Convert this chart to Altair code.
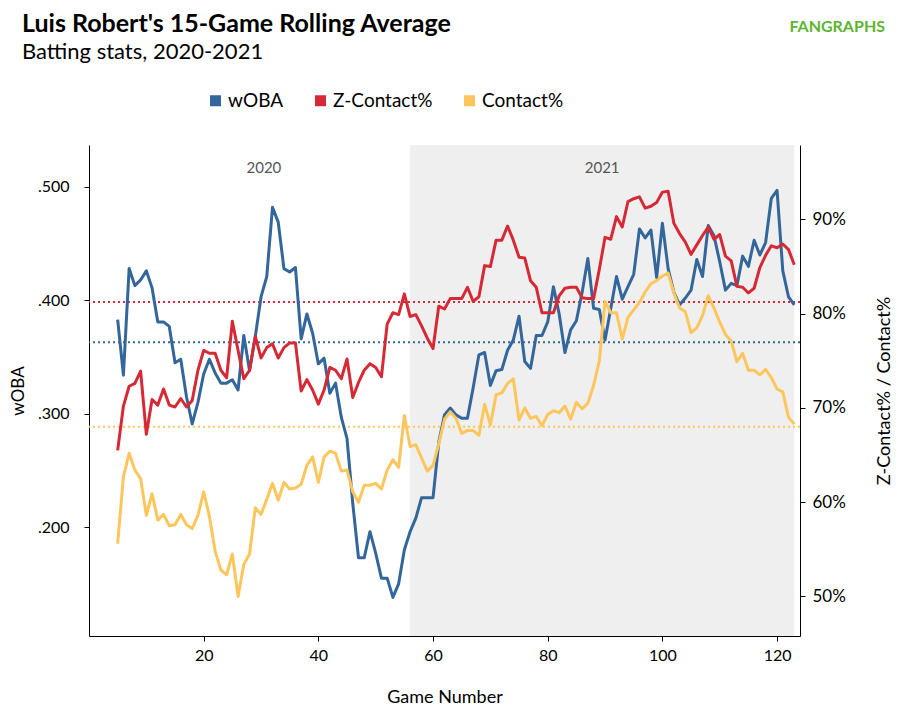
import altair as alt
import pandas as pd

# ---------------- data ----------------
games = list(range(5, 124))

woba = [
    .383, .334, .428, .413, .418, .426, .411, .381, .381, .377,
    .345, .348, .315, .291, .310, .335, .348, .336, .327, .327,
    .330, .321, .369, .338, .368, .403, .421, .482, .469, .428,
    .425, .429, .366, .388, .371, .344, .349, .318, .327, .297,
    .278, .221, .173, .173, .196, .177, .155, .155, .138, .150,
    .180, .196, .208, .226, .226, .226, .275, .299, .305, .299,
    .296, .296, .323, .352, .354, .325, .338, .339, .356, .365,
    .386, .346, .340, .369, .369, .381, .412, .388, .354, .374,
    .382, .407, .437, .393, .392, .365, .393, .421, .401, .412,
    .423, .463, .455, .462, .420, .468, .428, .407, .396, .402,
    .409, .436, .421, .466, .457, .434, .409, .415, .413, .439,
    .430, .453, .440, .451, .490, .497, .426, .403, .396,
]

z_contact = [
    65.5, 70.2, 72.3, 72.6, 73.9, 67.2, 70.9, 70.3, 72.0, 70.3,
    70.1, 71.0, 70.1, 70.8, 74.0, 76.1, 75.8, 75.8, 74.0, 73.2,
    79.2, 76.1, 73.1, 74.0, 77.6, 75.3, 76.4, 76.8, 75.3, 76.4,
    76.9, 76.9, 71.8, 73.0, 71.9, 70.4, 71.9, 74.3, 74.0, 73.1,
    75.2, 71.1, 72.7, 74.0, 74.7, 74.3, 73.3, 78.9, 80.1, 79.9,
    82.1, 79.7, 79.9, 78.7, 77.4, 76.3, 80.8, 80.5, 81.6, 81.6,
    81.6, 82.8, 81.3, 81.8, 85.1, 85.0, 87.8, 87.8, 89.3, 87.8,
    86.0, 85.9, 83.5, 82.8, 80.1, 80.1, 80.1, 81.9, 82.7, 82.8,
    82.8, 81.7, 81.6, 81.6, 84.7, 88.1, 87.9, 90.3, 89.2, 91.9,
    92.2, 92.4, 91.2, 91.4, 91.8, 92.9, 93.0, 89.6, 88.5, 87.6,
    86.3, 87.3, 88.3, 89.2, 87.9, 88.4, 86.1, 85.6, 82.9, 82.8,
    82.2, 82.7, 84.9, 86.2, 87.2, 87.0, 87.4, 86.8, 85.2,
]

contact = [
    55.6, 62.7, 65.2, 63.4, 62.5, 58.6, 60.9, 58.1, 58.7, 57.5,
    57.6, 58.7, 57.6, 57.2, 58.6, 61.1, 58.5, 54.8, 52.8, 52.3,
    54.5, 50.0, 53.4, 54.5, 59.4, 58.7, 60.3, 62.0, 60.2, 62.1,
    61.4, 61.5, 61.9, 63.9, 64.8, 62.1, 64.8, 65.4, 65.2, 63.3,
    63.4, 61.1, 60.0, 61.8, 61.8, 62.0, 61.4, 63.4, 64.5, 63.7,
    69.2, 65.9, 66.1, 64.7, 63.3, 63.9, 66.2, 68.8, 69.6, 68.9,
    67.3, 67.6, 67.6, 67.1, 70.4, 68.2, 71.4, 71.6, 72.6, 73.1,
    68.7, 70.0, 68.9, 69.1, 68.1, 69.3, 69.7, 69.5, 70.2, 68.8,
    70.6, 69.9, 70.5, 72.4, 75.0, 81.3, 80.1, 80.1, 77.3, 79.6,
    80.4, 81.2, 82.3, 83.2, 83.5, 84.0, 84.3, 82.2, 80.6, 80.2,
    78.0, 78.5, 79.8, 81.9, 80.6, 79.1, 77.8, 77.1, 74.9, 75.8,
    74.0, 74.0, 73.5, 74.1, 73.2, 72.0, 71.7, 69.0, 68.3,
]

series_names = ["wOBA", "Z-Contact%", "Contact%"]
series_colors = ["#33669a", "#d52a35", "#fcc65c"]

avg_woba = 0.363
avg_z_contact = 81.25
avg_contact = 68.0

season_labels = ["2020", "2021"]
season_label_x = [30.5, 89.5]
season_2021_start = [56]
season_2021_end = [123]

title_text = "Luis Robert's 15-Game Rolling Average"
subtitle_text = "Batting stats, 2020-2021"
logo_text = "FANGRAPHS"

x_ticks = [20, 40, 60, 80, 100, 120]
woba_ticks = [0.2, 0.3, 0.4, 0.5]
pct_ticks = [50, 60, 70, 80, 90]

# ---------------- layout ----------------
W, H = 711, 491
BLUE, RED, YELLOW = series_colors
FONT = "Lato"

df_woba = pd.DataFrame({"game": games, "value": woba})
df_z = pd.DataFrame({"game": games, "value": z_contact})
df_c = pd.DataFrame({"game": games, "value": contact})
df_legend = pd.DataFrame({"series": series_names})
df_years = pd.DataFrame({"x": season_label_x, "label": season_labels})
df_shade = pd.DataFrame({"start": season_2021_start, "end": season_2021_end})

x_scale = alt.Scale(domain=[0, 124], nice=False, zero=False)
x_axis = alt.Axis(values=x_ticks, title="Game Number", tickSize=5,
                  labelPadding=6, titlePadding=25, grid=False)
left_scale = alt.Scale(domain=[0.104, 0.537], nice=False, zero=False)
right_scale = alt.Scale(domain=[45.8, 97.9], nice=False, zero=False)

left_axis = alt.Axis(values=woba_ticks, orient="left",
                     labelExpr="replace(format(datum.value, '.3f'), '0.', '.')",
                     title="wOBA", tickSize=5, labelPadding=15, titlePadding=10,
                     titleFontSize=17)
right_axis = alt.Axis(values=pct_ticks, orient="right",
                      labelExpr="datum.value + '%'",
                      title="Z-Contact% / Contact%", titleAngle=270, titleBaseline="top",
                      tickSize=5, labelPadding=7, titlePadding=30, labelFontSize=17)

color_scale = alt.Scale(domain=series_names, range=series_colors)

shade = alt.Chart(df_shade).mark_rect(color="#efefef").encode(
    x=alt.X("start:Q", scale=x_scale, axis=x_axis),
    x2="end:Q",
    y=alt.value(0),
    y2=alt.value(H),
)

years = alt.Chart(df_years).mark_text(font=FONT, fontSize=15, color="#555555").encode(
    x=alt.X("x:Q", scale=x_scale, axis=x_axis),
    y=alt.value(23),
    text="label:N",
)

blue_rule = alt.Chart(pd.DataFrame({"v": [avg_woba]})).mark_rule(
    color=BLUE, strokeDash=[2, 3], strokeWidth=2
).encode(y=alt.Y("v:Q", scale=left_scale, axis=left_axis))

title = alt.Chart(pd.DataFrame({"t": [title_text]})).mark_text(
    font=FONT, fontSize=25, fontWeight="bold", align="left", baseline="alphabetic", color="#000000"
).encode(x=alt.value(-67), y=alt.value(-113), text="t:N")

subtitle = alt.Chart(pd.DataFrame({"t": [subtitle_text]})).mark_text(
    font=FONT, fontSize=22, align="left", baseline="alphabetic", color="#000000"
).encode(x=alt.value(-67), y=alt.value(-86), text="t:N")

logo = alt.Chart(pd.DataFrame({"t": [logo_text]})).mark_text(
    font=FONT, fontSize=16, fontWeight="bold", align="right", baseline="alphabetic", color="#5cb531"
).encode(x=alt.value(796), y=alt.value(-113), text="t:N")

legend_layer = alt.Chart(df_legend).mark_square(size=0, opacity=1, filled=True).encode(
    color=alt.Color("series:N", scale=color_scale,
                    legend=alt.Legend(orient="none", legendX=117, legendY=-54,
                                      direction="horizontal", title=None,
                                      symbolType="square", symbolSize=121,
                                      labelFont=FONT, labelFontSize=19, labelColor="#000000",
                                      labelOffset=3, columnPadding=27, padding=0))
)

layer_a = alt.layer(shade, years, blue_rule, title, subtitle, logo, legend_layer)

red_rule = alt.Chart(pd.DataFrame({"v": [avg_z_contact]})).mark_rule(
    color=RED, strokeDash=[2, 3], strokeWidth=2
).encode(y=alt.Y("v:Q", scale=right_scale, axis=right_axis))
yellow_rule = alt.Chart(pd.DataFrame({"v": [avg_contact]})).mark_rule(
    color=YELLOW, strokeDash=[2, 3], strokeWidth=2
).encode(y=alt.Y("v:Q", scale=right_scale, axis=right_axis))
layer_b = alt.layer(red_rule, yellow_rule)

blue_line = alt.Chart(df_woba).mark_line(color=BLUE, strokeWidth=3, strokeJoin="round").encode(
    x=alt.X("game:Q", scale=x_scale, axis=x_axis),
    y=alt.Y("value:Q", scale=left_scale, axis=None),
)

red_line = alt.Chart(df_z).mark_line(color=RED, strokeWidth=3, strokeJoin="round").encode(
    x=alt.X("game:Q", scale=x_scale, axis=x_axis),
    y=alt.Y("value:Q", scale=right_scale, axis=None),
)
yellow_line = alt.Chart(df_c).mark_line(color=YELLOW, strokeWidth=3, strokeJoin="round").encode(
    x=alt.X("game:Q", scale=x_scale, axis=x_axis),
    y=alt.Y("value:Q", scale=right_scale, axis=None),
)
layer_d = alt.layer(red_line, yellow_line)

chart = alt.layer(layer_a, layer_b, blue_line, layer_d).resolve_scale(
    y="independent"
).properties(
    width=W, height=H,
    autosize=alt.AutoSizeParams(type="none"),
    padding={"left": 81, "top": 137, "right": 94, "bottom": 72},
    background="white",
).configure_view(stroke=None).configure_axis(
    labelFont=FONT, titleFont=FONT, labelFontSize=16, titleFontSize=18,
    labelColor="#000000", titleColor="#000000", titleFontWeight="normal",
    domainColor="#000000", tickColor="#000000", grid=False,
)

chart.save("out.html", embed_options={"renderer": "svg", "actions": False})
